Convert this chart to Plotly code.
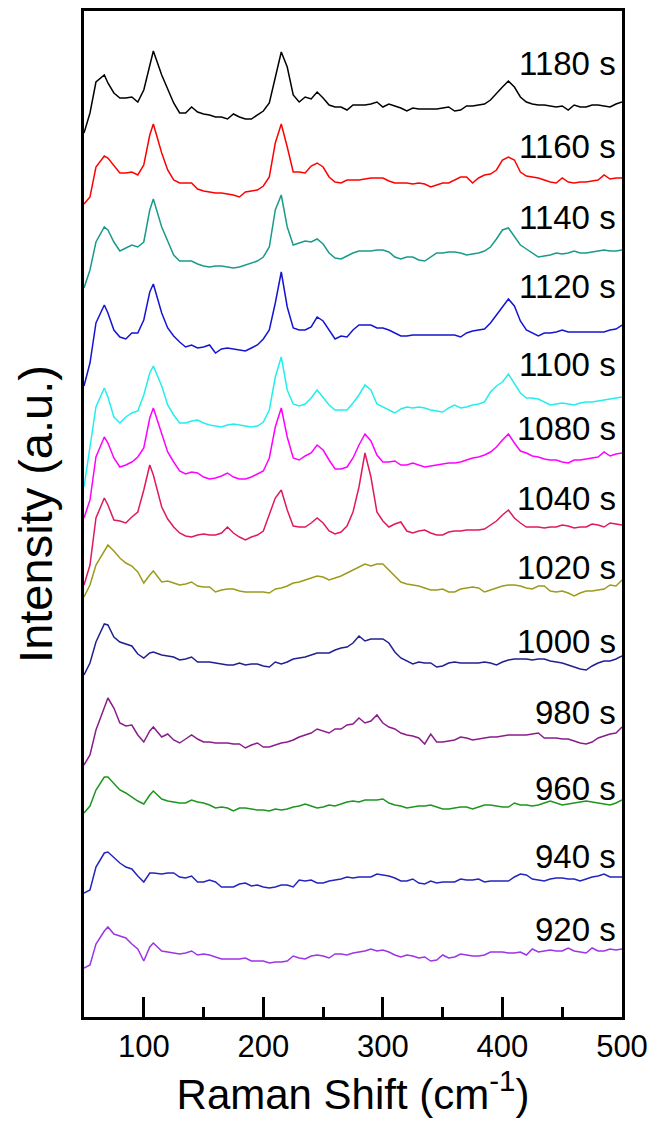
import plotly.graph_objects as go

# Raman shift grid (cm^-1)
shift = [50, 55, 60, 67, 70, 75, 80, 85, 90, 95, 100, 105, 108] + list(range(115, 501, 5))

times = ["1180 s", "1160 s", "1140 s", "1120 s", "1100 s", "1080 s", "1040 s",
         "1020 s", "1000 s", "980 s", "960 s", "940 s", "920 s"]

# vertical offsets used for stacking (a.u.)
offsets = [912, 839, 766, 687, 617, 562, 492, 432, 357, 282, 212, 137, 65]
# label heights (a.u.)
label_y = [954, 871, 800, 731, 653, 589, 519, 450, 376, 305, 229, 161, 88]

colors = ["#000000", "#ff0000", "#1a9a8a", "#1414d2", "#22eeee", "#ff00ff", "#e01860",
          "#9b9b1c", "#202090", "#8b1c8b", "#1c961c", "#2424c0", "#9a35e8"]

s1180 = [-28, -8, 23, 30, 22, 12, 7, 7, 8, 3, 15, 40, 54,
         30, 15, 2, -8, -8, -2, -7, -9, -10, -12,
         -12, -14, -9, -12, -14, -14, -10, -6, 2, 28,
         53, 38, 10, 3, 8, 6, 13, 7, 0, -2,
         -2, -5, 0, 0, 0, 1, 3, -2, 1, -1,
         -3, -6, -3, -4, -4, -4, -4, -3, -2, -6,
         -5, -1, -1, 0, 1, 5, 12, 18, 24, 18,
         8, 3, 1, 0, 0, -1, -2, -1, -5, 0,
         -2, -2, 0, 0, -1, -2, 1, 3]
s1160 = [-26, -19, 11, 22, 20, 13, 5, 5, 6, 3, 13, 43, 54,
         25, 8, -2, -5, -5, -5, -11, -13, -14, -15,
         -15, -16, -17, -19, -14, -13, -12, -8, 1, 35,
         54, 31, 6, 6, 5, 12, 15, 11, 1, -4,
         -5, -2, -2, -2, -1, 0, 0, 0, -3, -5,
         -5, -5, -6, -5, -6, -9, -7, -5, -5, -2,
         1, 1, -5, 0, 3, 4, 8, 18, 21, 18,
         6, 2, 1, 0, -2, -4, -5, 0, -4, -5,
         -4, -4, -3, -2, 3, -1, 0, 0]
s1140 = [-37, -19, 9, 24, 21, 9, 0, 3, 6, 4, 9, 41, 52,
         24, 9, -4, -10, -10, -10, -13, -15, -16, -15,
         -15, -16, -17, -16, -14, -12, -10, -6, 4, 41,
         56, 24, 6, 8, 10, 9, 12, 7, -2, -7,
         -8, -5, -2, 0, 0, 0, 1, 1, -1, -6,
         -8, -6, -6, -9, -10, -6, -2, -2, -1, -1,
         -2, -4, -3, -2, 0, 4, 12, 21, 23, 15,
         6, 2, -2, -6, -5, -4, -2, -3, -2, 0,
         -2, -2, -1, 0, 1, 0, 0, 1]
s1120 = [-56, -33, 7, 25, 17, 0, -7, -9, -3, -3, 10, 38, 46,
         17, 2, -6, -12, -17, -15, -18, -17, -15, -23,
         -19, -18, -19, -20, -21, -18, -15, -9, 0, 27,
         58, 23, 2, 0, 0, 3, 13, 9, 0, -9,
         -6, -7, 0, 5, 5, 5, 2, 2, 0, -3,
         -6, -6, -5, -5, -5, -5, -5, -5, -5, -5,
         -7, -3, -1, 0, 1, 7, 15, 22, 31, 24,
         9, 0, -3, -6, -3, -3, -2, 0, -2, -2,
         -2, -2, -2, -2, -2, 0, 1, 5]
s1100 = [-87, -47, -7, 12, 3, -17, -23, -17, -13, -11, 5, 27, 34,
         14, -5, -15, -23, -23, -21, -20, -23, -25, -26,
         -27, -25, -24, -25, -26, -27, -26, -22, -10, 23,
         43, 10, -4, -6, -4, 2, 10, 2, -5, -10,
         -10, -10, -3, 5, 15, 10, -4, -7, -10, -13,
         -9, -7, -8, -7, -8, -10, -11, -12, -8, -5,
         -8, -7, -5, -4, -2, 8, 14, 18, 26, 17,
         7, 2, 2, 1, -2, -5, -4, -3, -4, -5,
         -3, -2, -2, -1, 0, 1, 2, 3]
s1080 = [-63, -45, -2, 18, 12, -3, -12, -10, -7, -2, 7, 37, 47,
         20, 3, -7, -16, -19, -17, -18, -22, -24, -23,
         -21, -18, -22, -24, -24, -22, -19, -16, -3, 28,
         47, 18, -3, -5, -1, 2, 10, 5, -5, -14,
         -14, -12, -3, 10, 21, 14, 0, -7, -7, -6,
         -10, -10, -8, -10, -12, -11, -10, -9, -8, -8,
         -7, -5, -3, -2, 0, 3, 8, 15, 21, 12,
         4, 2, -1, -2, -4, -5, -5, -7, -8, -5,
         -5, -4, -3, -2, 3, -1, 1, 2]
s1040 = [-60, -40, 7, 27, 20, 5, 4, 2, 8, 13, 35, 60, 50,
         18, 6, -2, -8, -11, -12, -10, -9, -10, -10,
         -8, -2, -8, -12, -15, -12, -10, -6, 10, 27,
         35, 15, -1, -2, -2, 2, 7, 2, -6, -9,
         -7, -1, 13, 38, 72, 48, 13, 4, -2, 1,
         3, -6, -8, -6, -5, -8, -10, -10, -7, -6,
         -6, -5, -5, -5, -4, 0, 4, 10, 15, 7,
         2, -2, -2, -2, -3, -2, -2, 0, -1, -3,
         -2, -2, 1, 0, -2, 2, 1, 0]
s1020 = [-12, 0, 20, 35, 40, 34, 27, 22, 19, 13, 2, 10, 14,
         3, 4, 2, 0, 1, 3, -1, -2, -2, -7,
         -5, -4, -4, -6, -7, -7, -7, -7, -8, -4,
         -3, -1, 2, 3, 5, 7, 9, 8, 5, 7,
         9, 12, 15, 18, 21, 19, 21, 21, 15, 9,
         3, 1, 0, -1, -3, -5, -5, -4, -7, -7,
         -4, -3, -2, -3, -7, -5, -3, -1, 0, 0,
         -1, -3, -4, -1, -1, -6, -7, -6, -8, -11,
         -8, -6, -6, -5, -4, 0, -1, 5]
s1000 = [-15, -3, 18, 36, 35, 23, 18, 16, 14, 6, 2, 7, 8,
         5, 4, 3, 0, 1, 3, -2, -2, -2, -3,
         -4, -5, -5, -3, -5, -4, -4, -6, -7, -2,
         -4, -2, 1, 2, 3, 5, 7, 7, 7, 10,
         12, 13, 17, 24, 19, 21, 21, 21, 17, 8,
         2, -1, -4, -2, -3, -3, -7, -6, -3, -2,
         -3, -3, -3, -3, -2, -3, -5, -2, 0, 1,
         1, 1, 0, 1, 1, -1, -2, -3, -5, -7,
         -9, -10, -6, -3, -1, -1, 1, 4]
s980 = [-30, -20, 5, 28, 37, 27, 12, 9, 10, 0, -7, 4, 8,
        -2, 1, -5, -8, -4, 0, -4, -7, -7, -8,
        -8, -8, -9, -9, -13, -10, -8, -12, -12, -10,
        -8, -7, -5, -2, 0, 2, 6, 4, 2, 6,
        6, 10, 11, 17, 12, 14, 20, 12, 8, 6,
        2, 0, -1, -3, -9, 1, -7, -7, -6, -5,
        -2, -3, -5, -4, -3, -2, -2, -1, 0, 0,
        0, 0, 1, 2, -3, -3, -3, -4, -4, -6,
        -8, -9, -7, -3, -1, 1, 2, 8]
s960 = [-8, -1, 15, 28, 28, 21, 15, 12, 8, 4, 1, 10, 14,
        6, 4, 3, 2, 2, 5, 3, 2, 0, -3,
        -2, -3, -6, -3, -3, -4, -5, -5, -6, -4,
        -5, -4, -2, -1, 1, -1, -3, -2, 0, -1,
        1, 3, 4, 3, 5, 5, 5, 6, 2, 0,
        -1, -3, -2, -1, -1, 0, -2, -4, -4, -3,
        -2, -2, -4, -2, 0, 0, -1, -2, -2, 2,
        0, 0, -1, 0, 2, 4, 2, 0, 1, 2,
        3, 4, 3, 2, 1, 0, 2, 5]
s940 = [-13, -10, 13, 27, 28, 22, 17, 13, 11, 4, -2, 7, 7,
        6, 7, 7, 3, 2, 4, -2, -2, 0, -2,
        -7, -7, -7, -4, -3, -6, -5, -7, -8, -7,
        -5, -5, -7, 0, -1, 0, -3, -3, -1, 0,
        1, 3, 2, 3, 3, 3, 6, 5, 4, 2,
        -1, -1, 1, -3, -4, -1, -3, -2, -2, -2,
        1, 0, 0, 1, -2, -1, -1, -1, -1, 3,
        6, 5, 1, 0, -1, 1, 2, 2, 1, 1,
        -1, 1, 3, 4, 6, 3, 3, 3]
s920 = [-16, -13, 8, 21, 25, 18, 16, 14, 8, 3, -9, 5, 9,
        1, 0, -1, -2, -1, 1, -3, -2, -3, -5,
        -7, -7, -7, -7, -6, -9, -9, -9, -11, -10,
        -10, -9, -4, -6, -7, -4, -3, -4, -6, -2,
        -2, -3, -1, 0, 1, 3, 1, 2, 0, -3,
        -5, -3, -4, -6, -5, -9, -8, -3, -6, -5,
        -2, -3, -4, -4, -3, 0, 0, 0, -1, -1,
        0, -3, 3, 0, 1, 2, 1, 1, 4, 1,
        0, -1, 4, 1, 1, 3, 2, 3]

spectra = [s1180, s1160, s1140, s1120, s1100, s1080, s1040,
           s1020, s1000, s980, s960, s940, s920]

for name, s in zip(times, spectra):
    assert len(s) == len(shift), (name, len(s), len(shift))

FONT = "Liberation Sans, Arial, sans-serif"

fig = go.Figure()
for name, s, off, col in zip(times, spectra, offsets, colors):
    fig.add_trace(go.Scatter(
        x=shift, y=[off + v for v in s], mode="lines", name=name,
        line=dict(color=col, width=1.5), showlegend=False))

for name, ly in zip(times, label_y):
    fig.add_annotation(x=0.992, xref="paper", y=ly, yref="y", text=name,
                       showarrow=False, xanchor="right", yanchor="middle",
                       font=dict(family=FONT, size=33, color="black"))

fig.update_layout(
    template="none",
    width=651, height=1126,
    margin=dict(l=84, r=29, t=11, b=109),
    paper_bgcolor="white", plot_bgcolor="white",
    font=dict(family=FONT, color="black"),
    xaxis=dict(range=[50, 500], tickvals=[100, 200, 300, 400, 500],
               ticks="inside", ticklen=20, tickwidth=3, tickcolor="black",
               minor=dict(tickvals=[150, 250, 350, 450], ticks="inside",
                          ticklen=10, tickwidth=3, tickcolor="black", showgrid=False),
               showline=True, linewidth=3, linecolor="black", mirror=True,
               showgrid=False, zeroline=False, automargin=False,
               tickfont=dict(family=FONT, size=31, color="black"),
               title=dict(text="Raman Shift (cm<sup>-1</sup>)", standoff=14,
                          font=dict(family=FONT, size=42, color="black"))),
    yaxis=dict(range=[0, 1006], showticklabels=False, ticks="",
               showline=True, linewidth=3, linecolor="black", mirror=True,
               showgrid=False, zeroline=False, automargin=False,
               title=dict(text="Intensity (a.u.)", standoff=14,
                          font=dict(family=FONT, size=47, color="black"))),
)

fig.write_html("out.html")
